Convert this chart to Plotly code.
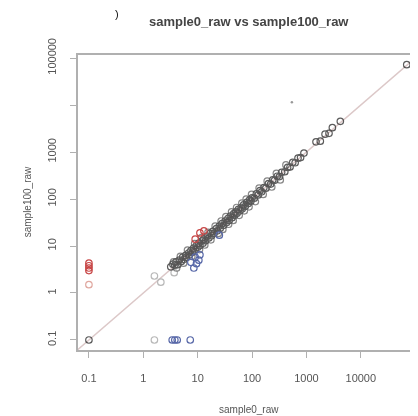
import plotly.graph_objects as go

# ---- data ----
black_x = [3.2, 3.5, 3.8, 4.0, 4.3, 4.6, 5.0, 5.3, 5.6, 6.0, 6.2, 6.8, 7.1, 7.5, 8.0, 8.4, 9.0, 9.5,
           10, 10.5, 11, 12, 12.5, 13, 14, 15, 16, 17, 18, 19, 20, 22, 23, 25, 26, 28, 30, 32, 34,
           36, 38, 40, 43, 46, 48, 50, 53, 56, 60, 63, 66, 70, 75, 80, 85, 90, 95, 100, 110, 120,
           130, 140, 150, 165, 180, 200, 220, 240, 260, 290, 320, 350, 400, 450, 500, 560, 620,
           700, 780, 900, 1500, 1800, 2200, 2600, 3000, 4200, 70000, 0.1]
black_y = [3.6, 4.1, 3.9, 4.6, 4.0, 5.0, 4.7, 5.8, 5.2, 6.3, 5.7, 7.1, 6.5, 8.0, 7.4, 9.0, 8.3, 10.2,
           9.4, 11.5, 10.2, 12.8, 11.4, 14.0, 13.0, 16.2, 14.8, 18.5, 16.5, 20.5, 18.6, 23.5, 21.0,
           26.5, 24.0, 30.0, 27.5, 34.0, 31.5, 38.5, 35.0, 43.0, 40.0, 49.0, 45.0, 53.0, 50.0, 60.0,
           56.0, 66.0, 62.0, 75.0, 70.0, 85.0, 80.0, 96.0, 90.0, 106, 104, 128, 122, 150, 142, 175,
           170, 212, 208, 255, 250, 305, 300, 370, 380, 470, 480, 600, 590, 740, 760, 950, 1650,
           1700, 2400, 2500, 3300, 4500, 72000, 0.1]
black2_x = [3.6, 4.1, 4.8, 5.5, 6.5, 7.8, 8.8, 10.8, 11.8, 13.5, 15.5, 17.5, 21, 24, 27, 29, 33, 37,
            42, 45, 52, 58, 65, 72, 78, 88, 98, 115, 135, 160, 190, 230, 280, 330, 420]
black2_y = [4.6, 3.4, 6.0, 4.3, 8.2, 6.0, 11.2, 8.4, 15.0, 10.5, 19.5, 13.5, 26.5, 18.5, 34, 22.5,
            42, 29, 53, 35, 66, 45, 82, 56, 99, 68, 125, 88, 170, 125, 240, 180, 350, 255, 530]
red_x = [0.1, 0.1, 0.1, 0.1, 11, 13, 9]
red_y = [3.0, 3.4, 3.8, 4.3, 19, 21, 14]
pink_x = [0.1]
pink_y = [1.5]
blue_x = [3.4, 3.8, 4.2, 7.3, 8.5, 9.5, 10.5, 9.0, 11, 7.5, 25]
blue_y = [0.1, 0.1, 0.1, 0.1, 3.4, 4.2, 5.0, 5.8, 6.5, 4.5, 17]
gray_x = [1.6, 1.6, 2.1, 3.7]
gray_y = [0.1, 2.3, 1.7, 2.7]
dot_x = [540]
dot_y = [11500]
diag = [0.01, 1000000]

x_ticks = [0.1, 1, 10, 100, 1000, 10000, 100000]
x_tick_text = ["0.1", "1", "10", "100", "1000", "10000", ""]
y_ticks = [0.1, 1, 10, 100, 1000, 10000, 100000]
y_tick_text = ["0.1", "1", "10", "100", "1000", "", "100000"]

OFF = 8  # page body margin
W, H = 418 - OFF, 416 - OFF
L, T, B = 78 - OFF, 55 - OFF, 350 - OFF  # plot area edges in figure pixels

fig = go.Figure()
fig.add_trace(go.Scatter(x=diag, y=diag, mode="lines",
                         line=dict(color="#dcc8c8", width=1.5), hoverinfo="skip"))


def circles(x, y, color, op=1.0):
    fig.add_trace(go.Scatter(x=x, y=y, mode="markers", opacity=op,
                             marker=dict(symbol="circle-open", size=6.5,
                                         line=dict(color=color, width=1.2), color=color)))


circles(gray_x, gray_y, "#b8b8b8")
circles(black_x, black_y, "#333333", 0.8)
circles(black2_x, black2_y, "#555555", 0.7)
circles(blue_x, blue_y, "#5868a8")
circles(red_x, red_y, "#c84848")
circles(pink_x, pink_y, "#e0a8a0")
fig.add_trace(go.Scatter(x=dot_x, y=dot_y, mode="markers",
                         marker=dict(size=2.5, color="#999999")))

axis_common = dict(type="log", showgrid=False, zeroline=False, showline=True, mirror=True,
                   linecolor="#b0b0b0", linewidth=1.5, ticks="outside", ticklen=6,
                   tickcolor="#b0b0b0", tickfont=dict(size=11, color="#555555"))

pw, ph = W - L, B - T


def px(x):
    return (x - OFF - L) / pw


def py(y):
    return (B - (y - OFF)) / ph


fig.update_layout(
    width=W, height=H,
    margin=dict(l=L, r=0, t=T, b=H - B),
    paper_bgcolor="white", plot_bgcolor="white",
    showlegend=False,
    font=dict(family="Liberation Sans, Arial, sans-serif"),
    xaxis=dict(range=[-1.201, 5.015], tickvals=x_ticks, ticktext=x_tick_text,
               ticklabelstandoff=11, **axis_common),
    yaxis=dict(range=[-1.213, 5.064], tickvals=y_ticks, ticktext=y_tick_text,
               tickangle=-90, ticklabelstandoff=10, **axis_common),
    annotations=[
        dict(text="<b>sample0_raw vs sample100_raw</b>", x=px(250), y=py(22),
             font=dict(size=13, color="#444444")),
        dict(text="sample0_raw", x=px(250), y=py(409),
             font=dict(size=10, color="#555555")),
        dict(text="sample100_raw", x=px(27), y=py(202), textangle=-90,
             font=dict(size=10, color="#555555")),
        dict(text=")", x=px(117), y=py(14), font=dict(size=11, color="#111111")),
    ],
)
fig.update_annotations(xref="paper", yref="paper", showarrow=False,
                       xanchor="center", yanchor="middle")

fig.write_html("out.html")
